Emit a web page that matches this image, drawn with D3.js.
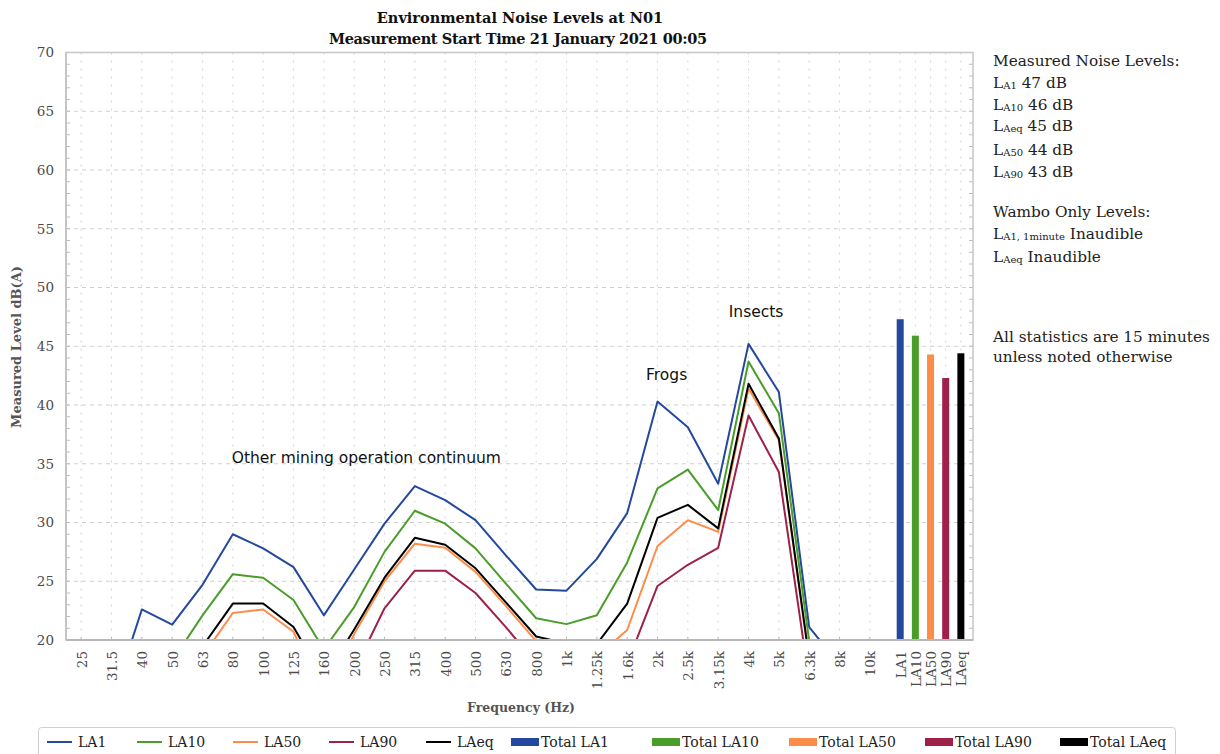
<!DOCTYPE html>
<html>
<head>
<meta charset="utf-8">
<script src="https://cdn.jsdelivr.net/npm/d3@7"></script>
<style>
  body { margin: 0; background: #fff; }
  svg { font-family: "DejaVu Serif", serif; }
</style>
</head>
<body>
<svg id="chart" width="1220" height="754"></svg>
<script>
// one-third octave bands (Hz)
const freqLabels = ["25", "31.5", "40", "50", "63", "80", "100", "125", "160", "200",
  "250", "315", "400", "500", "630", "800", "1k", "1.25k", "1.6k", "2k",
  "2.5k", "3.15k", "4k", "5k", "6.3k", "8k", "10k"];

// spectra, dB(A)
const LA1 = [12.5, 14.6, 22.6, 21.3, 24.7, 29.0, 27.8, 26.2, 22.1, 26.0,
  29.9, 33.1, 31.9, 30.2, 27.2, 24.3, 24.2, 26.9, 30.8, 40.3,
  38.1, 33.3, 45.2, 41.1, 21.1, 17.9, 15.5];
const LA10 = [11.0, 13.5, 16.0, 18.2, 22.1, 25.6, 25.3, 23.4, 19.2, 22.8,
  27.5, 31.0, 29.9, 27.8, 24.8, 21.85, 21.35, 22.1, 26.6, 32.9,
  34.5, 31.05, 43.7, 39.3, 19.9, 15.0, 13.0];
const LA50 = [8.0, 10.0, 12.0, 15.5, 18.6, 22.3, 22.6, 20.7, 15.1, 20.5,
  25.0, 28.2, 27.85, 25.8, 22.9, 19.9, 18.0, 18.6, 20.85, 28.0,
  30.2, 29.2, 41.4, 37.0, 18.3, 11.0, 9.0];
const LA90 = [6.0, 8.0, 10.0, 13.0, 16.0, 19.6, 19.9, 19.0, 16.0, 17.4,
  22.7, 25.9, 25.9, 24.0, 21.1, 18.0, 16.0, 16.5, 18.0, 24.6,
  26.4, 27.85, 39.1, 34.3, 16.5, 10.0, 8.0];
const LAeq = [9.0, 11.0, 13.0, 16.5, 19.45, 23.1, 23.1, 21.1, 16.7, 20.9,
  25.3, 28.7, 28.1, 26.1, 23.2, 20.3, 19.7, 19.65, 23.1, 30.4,
  31.5, 29.5, 41.8, 37.15, 18.4, 12.0, 10.0];

// overall levels drawn as bars
const totalLabels = ["LA1", "LA10", "LA50", "LA90", "LAeq"];
const totalValues = [47.3, 45.9, 44.3, 42.3, 44.4];

const yTicks = [20, 25, 30, 35, 40, 45, 50, 55, 60, 65, 70];

const seriesNames = ["LA1", "LA10", "LA50", "LA90", "LAeq"];
const seriesData = [LA1, LA10, LA50, LA90, LAeq];
const COLORS = ["#24489d", "#4a9d2b", "#fd8c4b", "#9d2148", "#000000"];

const PLOT = { left: 66, right: 973, top: 52.5, bottom: 640 };

const svg = d3.select("#chart");

// each band takes two slots, each total bar one slot
const freqSlot = (i) => 1 + 2 * i;
const totalSlot = (j) => 55 + j;
const allSlots = freqLabels.map((d, i) => freqSlot(i)).concat(totalLabels.map((d, j) => totalSlot(j)));
const slotLabel = (s) => (s < 55 ? freqLabels[(s - 1) / 2] : totalLabels[s - 55]);

const xScale = d3.scaleLinear().domain([0, 59.8]).range([PLOT.left, PLOT.right]);
const yScale = d3.scaleLinear().domain([20, 70]).range([PLOT.bottom, PLOT.top]);

// grid
const grid = svg.append("g");
grid.selectAll(".vgrid")
  .data(allSlots)
  .join("line")
  .attr("x1", (d) => xScale(d))
  .attr("x2", (d) => xScale(d))
  .attr("y1", PLOT.top)
  .attr("y2", PLOT.bottom)
  .attr("stroke", "#d6d6d6")
  .attr("stroke-dasharray", "2,6");
grid.selectAll(".hgrid")
  .data(yTicks.slice(1, -1))
  .join("line")
  .attr("x1", PLOT.left)
  .attr("x2", PLOT.right)
  .attr("y1", (d) => yScale(d))
  .attr("y2", (d) => yScale(d))
  .attr("stroke", "#cfcfcf")
  .attr("stroke-dasharray", "4,4");

// minor ticks every dB, both sides
const minor = d3.range(21, 70);
grid.selectAll(".mtl")
  .data(minor)
  .join("line")
  .attr("x1", PLOT.left)
  .attr("x2", PLOT.left + 4)
  .attr("y1", (d) => yScale(d))
  .attr("y2", (d) => yScale(d))
  .attr("stroke", "#bdbdbd");
grid.selectAll(".mtr")
  .data(minor)
  .join("line")
  .attr("x1", PLOT.right - 4)
  .attr("x2", PLOT.right)
  .attr("y1", (d) => yScale(d))
  .attr("y2", (d) => yScale(d))
  .attr("stroke", "#bdbdbd");
grid.selectAll(".btick")
  .data(allSlots)
  .join("line")
  .attr("x1", (d) => xScale(d))
  .attr("x2", (d) => xScale(d))
  .attr("y1", PLOT.bottom)
  .attr("y2", PLOT.bottom - 3)
  .attr("stroke", "#bdbdbd");

// frame
svg.append("rect")
  .attr("x", PLOT.left)
  .attr("y", PLOT.top)
  .attr("width", PLOT.right - PLOT.left)
  .attr("height", PLOT.bottom - PLOT.top)
  .attr("fill", "none")
  .attr("stroke", "#c6c6c6")
  .attr("stroke-width", 1.5);

// clip for the spectra
svg.append("clipPath")
  .attr("id", "plotclip")
  .append("rect")
  .attr("x", PLOT.left)
  .attr("y", PLOT.top)
  .attr("width", PLOT.right - PLOT.left)
  .attr("height", PLOT.bottom - PLOT.top);

const line = d3.line()
  .x((d, i) => xScale(freqSlot(i)))
  .y((d) => yScale(d));

svg.append("g")
  .attr("clip-path", "url(#plotclip)")
  .selectAll("path")
  .data(seriesData)
  .join("path")
  .attr("d", (d) => line(d))
  .attr("fill", "none")
  .attr("stroke", (d, i) => COLORS[i])
  .attr("stroke-width", 2)
  .attr("stroke-linejoin", "round");

// total bars
const BAR_W = 7;
svg.append("g")
  .selectAll("rect")
  .data(totalValues)
  .join("rect")
  .attr("x", (d, j) => xScale(totalSlot(j)) - BAR_W / 2)
  .attr("y", (d) => yScale(d))
  .attr("width", BAR_W)
  .attr("height", (d) => yScale(20) - yScale(d))
  .attr("fill", (d, j) => COLORS[j]);

// bottom and left axis lines
svg.append("line")
  .attr("x1", PLOT.left).attr("x2", PLOT.right)
  .attr("y1", PLOT.bottom).attr("y2", PLOT.bottom)
  .attr("stroke", "#b8b8b8").attr("stroke-width", 2);
svg.append("line")
  .attr("x1", PLOT.left).attr("x2", PLOT.left)
  .attr("y1", PLOT.top).attr("y2", PLOT.bottom)
  .attr("stroke", "#c0c0c0").attr("stroke-width", 1.5);

// axes
const yAxis = svg.append("g")
  .attr("transform", "translate(" + PLOT.left + ",0)")
  .call(d3.axisLeft(yScale).tickValues(yTicks).tickSize(0).tickPadding(12));
yAxis.select(".domain").remove();
yAxis.selectAll("text")
  .attr("font-family", "DejaVu Serif")
  .attr("font-size", 13.5)
  .attr("fill", "#4a4a4a");

const xAxis = svg.append("g")
  .attr("transform", "translate(0," + PLOT.bottom + ")")
  .call(d3.axisBottom(xScale).tickValues(allSlots).tickFormat(slotLabel).tickSize(0));
xAxis.select(".domain").remove();
xAxis.selectAll("text")
  .attr("font-family", "DejaVu Serif")
  .attr("font-size", 13.5)
  .attr("fill", "#4a4a4a")
  .attr("transform", "rotate(-90)")
  .attr("text-anchor", "end")
  .attr("x", -11)
  .attr("y", 0)
  .attr("dy", "0.36em");

// titles
const title = svg.append("text")
  .attr("text-anchor", "middle")
  .attr("font-weight", "bold")
  .attr("font-size", 14.5)
  .attr("fill", "#111");
title.append("tspan").attr("x", 520).attr("y", 23).text("Environmental Noise Levels at N01");
title.append("tspan").attr("x", 518).attr("y", 44)
  .attr("textLength", 378)
  .text("Measurement Start Time 21 January 2021 00:05");

svg.append("text")
  .attr("x", 521)
  .attr("y", 712)
  .attr("text-anchor", "middle")
  .attr("font-weight", "bold")
  .attr("font-size", 12.5)
  .attr("fill", "#555")
  .text("Frequency (Hz)");

svg.append("text")
  .attr("transform", "translate(21,347) rotate(-90)")
  .attr("text-anchor", "middle")
  .attr("font-weight", "bold")
  .attr("font-size", 13)
  .attr("fill", "#555")
  .text("Measured Level dB(A)");

// annotations
const notes = [
  { text: "Other mining operation continuum", slot: 19.8, level: 35.1 },
  { text: "Frogs", slot: 39.6, level: 42.1 },
  { text: "Insects", slot: 45.5, level: 47.5 },
];
svg.append("g")
  .selectAll("text")
  .data(notes)
  .join("text")
  .attr("x", (d) => xScale(d.slot))
  .attr("y", (d) => yScale(d.level))
  .attr("text-anchor", "middle")
  .attr("font-family", "DejaVu Sans")
  .attr("font-size", 15.5)
  .attr("fill", "#111")
  .text((d) => d.text);

// right hand panel
const panel = [
  { y: 66, main: "Measured Noise Levels:" },
  { y: 88, main: "L", sub: "A1", rest: " 47 dB" },
  { y: 110, main: "L", sub: "A10", rest: " 46 dB" },
  { y: 131, main: "L", sub: "Aeq", rest: " 45 dB" },
  { y: 155, main: "L", sub: "A50", rest: " 44 dB" },
  { y: 177, main: "L", sub: "A90", rest: " 43 dB" },
  { y: 217, main: "Wambo Only Levels:" },
  { y: 239, main: "L", sub: "A1, 1minute", rest: " Inaudible" },
  { y: 262, main: "L", sub: "Aeq", rest: " Inaudible" },
  { y: 342, main: "All statistics are 15 minutes" },
  { y: 362, main: "unless noted otherwise" },
];
const pt = svg.append("g")
  .selectAll("text")
  .data(panel)
  .join("text")
  .attr("x", 993)
  .attr("y", (d) => d.y)
  .attr("font-size", 15.3)
  .attr("fill", "#222");
pt.append("tspan").text((d) => d.main);
pt.filter((d) => d.sub)
  .append("tspan")
  .attr("font-size", 10)
  .attr("dy", 1)
  .text((d) => d.sub);
pt.filter((d) => d.rest)
  .append("tspan")
  .attr("dy", -1)
  .text((d) => d.rest);

// legend
const legendItems = seriesNames.map((n, i) => ({ label: n, color: COLORS[i], bar: false }))
  .concat(totalLabels.map((n, j) => ({ label: "Total " + n, color: COLORS[j], bar: true })));
const legendTextX = [78, 168, 264, 360, 457, 541, 682, 819, 955, 1090];

svg.append("rect")
  .attr("x", 38.5)
  .attr("y", 727.5)
  .attr("width", 1137)
  .attr("height", 36)
  .attr("rx", 3)
  .attr("fill", "#fff")
  .attr("stroke", "#cfcfcf");

const lg = svg.append("g")
  .selectAll("g")
  .data(legendItems)
  .join("g")
  .attr("transform", (d, i) => "translate(" + legendTextX[i] + ",741)");
lg.filter((d) => !d.bar)
  .append("line")
  .attr("x1", -31).attr("x2", -6)
  .attr("y1", 1).attr("y2", 1)
  .attr("stroke", (d) => d.color)
  .attr("stroke-width", 2);
lg.filter((d) => d.bar)
  .append("rect")
  .attr("x", -30).attr("y", -3)
  .attr("width", 28).attr("height", 8)
  .attr("fill", (d) => d.color);
lg.append("text")
  .attr("x", 0)
  .attr("y", 5.5)
  .attr("font-size", 14)
  .attr("fill", "#222")
  .text((d) => d.label);
</script>
</body>
</html>
